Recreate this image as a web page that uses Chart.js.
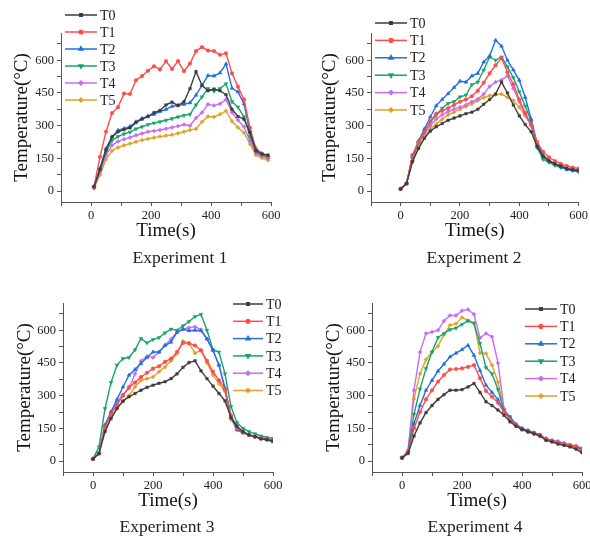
<!DOCTYPE html>
<html>
<head>
<meta charset="utf-8">
<script src="https://cdn.jsdelivr.net/npm/chart.js@4.4.1/dist/chart.umd.min.js"></script>
<style>
  html, body { margin: 0; padding: 0; background: #fff; }
  body { width: 590px; height: 538px; position: relative; overflow: hidden; }
  .panel { position: absolute; height: 270px; }
</style>
</head>
<body>
<div class="panel" style="left:0;top:0;width:295px"><canvas id="c1"></canvas></div>
<div class="panel" style="left:295px;top:0;width:295px"><canvas id="c2"></canvas></div>
<div class="panel" style="left:0;top:270px;width:295px"><canvas id="c3"></canvas></div>
<div class="panel" style="left:295px;top:270px;width:310px"><canvas id="c4"></canvas></div>
<script>
// Data (time in s, temperature in °C)
const seriesNames = ['T0', 'T1', 'T2', 'T3', 'T4', 'T5'];
const xTicks = [0, 200, 400, 600];
const xMinorTicks = [-100, 100, 300, 500];
const yTicks = [0, 150, 300, 450, 600];
const yMinorTicks = [75, 225, 375, 525, 675];
const captions = ['Experiment 1', 'Experiment 2', 'Experiment 3', 'Experiment 4'];

const time1 = [10, 30, 50, 70, 90, 110, 130, 150, 170, 190, 210, 230, 250, 270, 290, 310, 330, 350, 370, 390, 410, 430, 450, 470, 490, 510, 530, 550, 570, 590];
const time2 = [0, 20, 40, 60, 80, 100, 120, 140, 160, 180, 200, 220, 240, 260, 280, 300, 320, 340, 360, 380, 400, 420, 440, 460, 480, 500, 520, 540, 560, 580, 600];

// Experiment 1
const e1T0 = [20, 100, 190, 248, 272, 282, 290, 315, 330, 342, 360, 370, 395, 408, 392, 410, 470, 548, 485, 460, 468, 460, 442, 375, 342, 330, 270, 185, 170, 165];
const e1T1 = [20, 157, 272, 358, 385, 447, 445, 508, 528, 552, 572, 558, 596, 560, 596, 550, 585, 642, 660, 645, 642, 625, 632, 540, 478, 420, 290, 190, 170, 158];
const e1T2 = [20, 104, 195, 249, 279, 287, 296, 318, 333, 344, 352, 365, 375, 388, 394, 398, 405, 440, 485, 530, 528, 542, 583, 472, 455, 400, 270, 195, 172, 162];
const e1T3 = [18, 95, 180, 232, 250, 262, 270, 285, 295, 305, 312, 318, 325, 332, 340, 347, 352, 395, 432, 470, 458, 470, 492, 410, 385, 340, 250, 180, 165, 155];
const e1T4 = [15, 85, 165, 210, 228, 238, 246, 256, 264, 272, 276, 280, 286, 292, 298, 305, 300, 335, 360, 398, 392, 400, 420, 360, 325, 295, 230, 172, 160, 150];
const e1T5 = [12, 75, 145, 185, 200, 210, 218, 226, 234, 240, 245, 250, 254, 258, 265, 272, 280, 285, 318, 342, 340, 352, 368, 320, 292, 268, 215, 165, 152, 142];

// Experiment 2
const e2T0 = [10, 35, 135, 195, 242, 275, 295, 310, 325, 335, 345, 355, 362, 375, 398, 420, 445, 500, 450, 395, 345, 305, 272, 205, 160, 138, 125, 115, 103, 98, 95];
const e2T1 = [10, 35, 165, 225, 272, 320, 355, 368, 380, 395, 410, 420, 435, 460, 497, 540, 577, 610, 545, 490, 420, 358, 305, 225, 180, 155, 138, 125, 115, 108, 104];
const e2T2 = [10, 35, 160, 230, 285, 340, 392, 420, 447, 475, 504, 500, 528, 540, 592, 620, 692, 665, 600, 556, 508, 430, 330, 220, 165, 140, 125, 112, 100, 95, 90];
const e2T3 = [10, 35, 150, 220, 272, 318, 348, 380, 402, 410, 432, 440, 488, 500, 555, 615, 600, 615, 570, 520, 455, 390, 320, 200, 146, 132, 118, 108, 100, 95, 88];
const e2T4 = [10, 35, 165, 220, 262, 300, 330, 350, 365, 375, 385, 395, 410, 422, 445, 480, 500, 510, 528, 470, 410, 350, 300, 215, 160, 140, 125, 115, 105, 100, 95];
const e2T5 = [10, 35, 140, 200, 250, 285, 307, 330, 350, 362, 375, 388, 400, 415, 428, 438, 442, 445, 430, 415, 385, 345, 300, 210, 150, 135, 120, 110, 103, 98, 92];

// Experiment 3
const e3T0 = [10, 35, 135, 195, 241, 275, 295, 310, 325, 338, 348, 357, 364, 378, 400, 430, 452, 460, 414, 378, 344, 310, 276, 200, 160, 135, 120, 112, 102, 98, 92];
const e3T1 = [10, 35, 155, 215, 258, 300, 340, 360, 385, 405, 424, 435, 455, 470, 500, 542, 540, 530, 508, 460, 410, 370, 330, 210, 150, 132, 120, 112, 105, 100, 95];
const e3T2 = [10, 35, 165, 225, 283, 340, 394, 420, 447, 475, 500, 500, 530, 545, 590, 605, 598, 600, 598, 560, 508, 440, 335, 200, 145, 130, 120, 112, 102, 98, 88];
const e3T3 = [10, 65, 241, 360, 440, 470, 475, 510, 562, 542, 557, 566, 588, 605, 600, 620, 640, 663, 673, 600, 510, 500, 400, 250, 176, 150, 135, 125, 115, 108, 104];
const e3T4 = [10, 35, 165, 225, 272, 305, 333, 400, 459, 480, 475, 500, 531, 560, 592, 605, 612, 616, 603, 560, 508, 440, 328, 200, 142, 130, 120, 112, 105, 100, 95];
const e3T5 = [10, 35, 140, 200, 244, 275, 300, 340, 370, 378, 386, 410, 432, 460, 493, 550, 540, 495, 508, 450, 395, 355, 320, 190, 155, 135, 120, 112, 105, 100, 98];

// Experiment 4
const e4T0 = [15, 35, 115, 175, 222, 255, 283, 305, 325, 325, 328, 340, 356, 315, 272, 255, 234, 210, 180, 160, 145, 135, 125, 115, 95, 88, 78, 72, 65, 55, 38];
const e4T1 = [15, 40, 150, 225, 283, 325, 364, 395, 420, 422, 425, 432, 440, 380, 322, 295, 268, 225, 191, 165, 145, 135, 128, 118, 100, 92, 85, 78, 72, 65, 45];
const e4T2 = [15, 40, 172, 255, 325, 370, 413, 445, 478, 495, 511, 531, 485, 415, 348, 315, 282, 230, 200, 168, 150, 140, 130, 120, 100, 92, 85, 78, 72, 65, 52];
const e4T3 = [15, 40, 215, 330, 424, 500, 567, 585, 603, 610, 627, 643, 631, 540, 429, 400, 328, 230, 203, 165, 148, 140, 130, 120, 100, 92, 85, 78, 72, 65, 55];
const e4T4 = [15, 45, 325, 500, 585, 592, 600, 643, 668, 668, 690, 695, 673, 565, 585, 570, 450, 240, 196, 170, 150, 138, 128, 115, 104, 95, 90, 82, 74, 68, 60];
const e4T5 = [15, 50, 285, 400, 466, 500, 527, 580, 623, 630, 658, 645, 634, 496, 493, 440, 363, 235, 190, 162, 145, 132, 125, 115, 104, 95, 90, 82, 75, 70, 55];

// Styling
const serif = "'Liberation Serif', 'Times New Roman', serif";
Chart.defaults.font.family = serif;
Chart.defaults.color = '#222';
const colors = ['#3d3d3d', '#ff4b4b', '#1f70e0', '#16a36c', '#c86cf0', '#e2a126'];
const markers = [
  { style: 'rect', rot: 0, r: 1.8 },
  { style: 'circle', rot: 0, r: 1.8 },
  { style: 'triangle', rot: 0, r: 2.2 },
  { style: 'triangle', rot: 180, r: 2.2 },
  { style: 'rectRot', rot: 0, r: 2 },
  { style: 'rectRot', rot: 0, r: 2 }
];

function drawMarker(ctx, m, x, y) {
  if (Chart.helpers && Chart.helpers.drawPoint) {
    Chart.helpers.drawPoint(ctx, { pointStyle: m.style, radius: m.r, rotation: m.rot, borderWidth: 1 }, x, y);
  } else {
    ctx.beginPath();
    ctx.arc(x, y, m.r, 0, Math.PI * 2);
    ctx.fill();
  }
}

// legend drawn over the plot, like the Origin figure
const overlayLegend = {
  id: 'overlayLegend',
  afterDraw(chart, args, opts) {
    const ctx = chart.ctx;
    ctx.save();
    ctx.font = '14px ' + serif;
    ctx.textBaseline = 'middle';
    chart.data.datasets.forEach((ds, i) => {
      const y = opts.y + i * opts.dy;
      ctx.strokeStyle = ds.borderColor;
      ctx.fillStyle = ds.borderColor;
      ctx.lineWidth = 1.5;
      ctx.beginPath();
      ctx.moveTo(opts.x1, y);
      ctx.lineTo(opts.x2, y);
      ctx.stroke();
      drawMarker(ctx, markers[i], (opts.x1 + opts.x2) / 2, y);
      ctx.fillStyle = '#222';
      ctx.fillText(ds.label, opts.x2 + 3, y + 1);
    });
    ctx.restore();
  }
};

const caption = {
  id: 'caption',
  afterDraw(chart, args, opts) {
    const ctx = chart.ctx;
    ctx.save();
    ctx.font = '17.5px ' + serif;
    ctx.fillStyle = '#222';
    ctx.textAlign = 'center';
    ctx.textBaseline = 'middle';
    ctx.fillText(opts.text, opts.x, opts.y);
    ctx.restore();
  }
};

function makePanel(id, times, series, lay) {
  const datasets = series.map((vals, i) => ({
    label: seriesNames[i],
    data: vals.map((v, k) => ({ x: times[k], y: v })),
    borderColor: colors[i],
    backgroundColor: colors[i],
    borderWidth: 1.4,
    pointStyle: markers[i].style,
    rotation: markers[i].rot,
    pointRadius: markers[i].r,
    pointBorderWidth: 0.5,
    tension: 0
  }));

  new Chart(document.getElementById(id), {
    type: 'line',
    data: { datasets: datasets },
    options: {
      responsive: true,
      maintainAspectRatio: false,
      animation: false,
      layout: { padding: { left: 0, right: lay.right, top: 33, bottom: 28 } },
      plugins: {
        legend: { display: false },
        tooltip: { enabled: false },
        overlayLegend: lay.legend,
        caption: lay.caption
      },
      scales: {
        x: {
          type: 'linear',
          min: -100,
          max: 600,
          afterBuildTicks: s => { s.ticks = xTicks.concat(xMinorTicks).sort((a, b) => a - b).map(v => ({ value: v })); },
          afterFit: s => { s.height = 40; },
          ticks: {
            autoSkip: false,
            maxRotation: 0,
            padding: 2,
            font: { size: 12.5 },
            color: '#222',
            callback: v => xTicks.includes(v) ? v : ''
          },
          grid: { drawOnChartArea: false, tickLength: 4, color: '#555' },
          border: { color: '#555', width: 1 },
          title: { display: true, text: 'Time(s)', font: { size: 19 }, color: '#111', padding: 0 }
        },
        y: {
          min: -50,
          max: 725,
          afterBuildTicks: s => { s.ticks = yTicks.concat(yMinorTicks).sort((a, b) => a - b).map(v => ({ value: v })); },
          afterFit: s => { s.width = lay.yWidth; },
          ticks: {
            autoSkip: false,
            padding: 3,
            font: { size: 12.5 },
            color: '#222',
            callback: v => yTicks.includes(v) ? v : ''
          },
          grid: { drawOnChartArea: false, tickLength: 4, color: '#555' },
          border: { color: '#555', width: 1 },
          title: { display: true, text: 'Temperature(°C)', font: { size: 19 }, color: '#111', padding: { top: lay.titlePad, bottom: 0 } }
        }
      }
    },
    plugins: [overlayLegend, caption]
  });
}

makePanel('c1', time1, [e1T0, e1T1, e1T2, e1T3, e1T4, e1T5], {
  right: 24, yWidth: 61, titlePad: 10.5,
  legend: { x1: 65, x2: 97, y: 15, dy: 17 },
  caption: { text: captions[0], x: 180, y: 258 }
});
makePanel('c2', time2, [e2T0, e2T1, e2T2, e2T3, e2T4, e2T5], {
  right: 10, yWidth: 76, titlePad: 23.5,
  legend: { x1: 80, x2: 112, y: 23, dy: 17.4 },
  caption: { text: captions[1], x: 179, y: 258 }
});
makePanel('c3', time2, [e3T0, e3T1, e3T2, e3T3, e3T4, e3T5], {
  right: 22, yWidth: 63, titlePad: 13.5,
  legend: { x1: 233, x2: 263, y: 34, dy: 17.3 },
  caption: { text: captions[2], x: 167, y: 257 }
});
makePanel('c4', time2, [e4T0, e4T1, e4T2, e4T3, e4T4, e4T5], {
  right: 23, yWidth: 77, titlePad: 27.5,
  legend: { x1: 230, x2: 262, y: 39, dy: 17.4 },
  caption: { text: captions[3], x: 180, y: 257 }
});
</script>
</body>
</html>
